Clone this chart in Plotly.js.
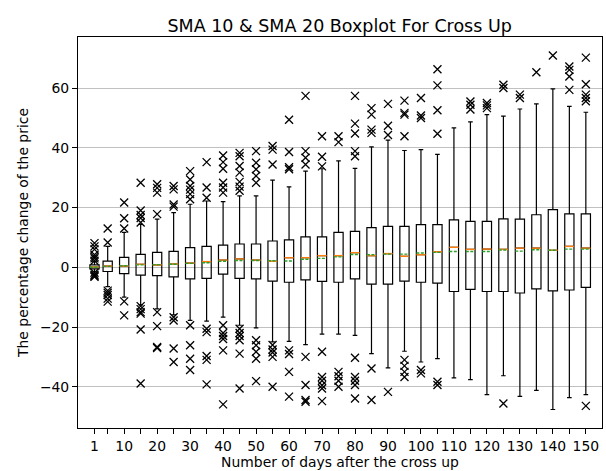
<!DOCTYPE html>
<html>
<head>
<meta charset="utf-8">
<script src="https://cdn.plot.ly/plotly-3.0.1.min.js"></script>
<style>html,body{margin:0;padding:0;background:#fff;}#chart{width:606px;height:471px;}</style>
</head>
<body>
<div id="chart"></div>
<script>
const days = [1,5,10,15,20,25,30,35,40,45,50,55,60,65,70,75,80,85,90,95,100,105,110,115,120,125,130,135,140,145,150];
const tickLabels = ['1','','10','','20','','30','','40','','50','','60','','70','','80','','90','','100','','110','','120','','130','','140','','150'];
const q1 =     [-0.5,-1.4,-2.1,-2.6,-2.8,-3.2,-3.9,-3.7,-2.3,-3.7,-3.9,-4.6,-5.0,-4.2,-4.7,-5.0,-3.9,-5.6,-5.6,-4.6,-5.0,-5.3,-8.1,-7.4,-8.1,-8.1,-8.6,-7.2,-7.9,-7.6,-6.7];
const median = [0.1,0.4,0.4,1.0,0.8,1.1,1.4,1.9,2.4,2.8,2.4,2.0,3.2,3.2,3.9,3.9,4.9,3.9,4.6,3.7,4.2,5.2,6.7,6.0,6.1,6.0,6.4,6.4,5.7,7.0,6.4];
const q3 =     [0.8,2.1,3.3,4.3,5.0,5.3,6.6,7.0,7.4,7.8,7.8,8.8,9.2,10.2,10.2,11.7,12.0,13.3,13.7,13.7,14.3,14.3,15.9,15.4,15.4,16.2,16.1,17.6,19.3,17.9,17.9];
const whiskerLow =  [-1.5,-6.5,-10.0,-12.6,-13.9,-15.9,-17.8,-18.0,-16.7,-19.4,-20.3,-25.0,-24.8,-25.9,-22.4,-22.4,-22.8,-28.9,-33.7,-28.1,-31.7,-30.6,-37.0,-37.6,-42.6,-36.3,-43.2,-41.2,-47.6,-43.6,-42.6];
const whiskerHigh = [2.0,7.0,11.7,14.4,16.1,18.3,21.1,22.2,22.0,23.9,23.9,29.2,26.9,32.2,33.0,35.6,33.1,40.3,42.6,39.1,39.4,37.8,46.7,48.7,51.1,50.6,53.0,54.7,59.7,53.9,51.9];
const mean =   [0.0,0.3,0.5,0.8,0.9,1.0,1.3,1.5,2.0,2.3,2.3,2.2,2.1,2.7,3.0,3.5,4.3,4.2,4.4,4.4,4.8,5.0,5.3,5.3,5.3,5.8,5.4,5.9,5.7,6.1,6.1];
const outliers = [
  [8.1,7.0,6.0,4.2,3.5,3.0,2.2,-1.8,-2.5,-2.9,-3.2],
  [13.0,8.3,-7.8,-8.5,-9.3,-10.5,-11.5],
  [13.0,16.4,21.7,-11.4,-16.1],
  [15.0,16.5,17.5,19.0,28.3,-13.0,-14.0,-15.0,-15.5,-20.8,-38.9],
  [17.8,25.0,26.6,27.8,-15.0,-19.7,-26.7,-27.0],
  [20.3,21.0,26.1,27.2,-16.7,-17.8,-27.2,-31.7],
  [22.8,24.5,26.0,27.2,29.4,32.2,-19.4,-26.1,-30.6,-34.4],
  [23.3,26.7,35.2,-20.6,-21.7,-29.7,-31.0,-39.2],
  [25.0,26.7,28.3,33.0,35.2,37.4,-19.4,-22.0,-23.0,-24.0,-27.8,-45.9],
  [25.6,27.0,28.6,31.7,33.9,37.2,38.3,-20.6,-22.0,-23.0,-24.4,-28.9,-40.6],
  [28.3,30.6,32.8,35.0,38.9,-24.4,-26.1,-28.3,-30.6,-38.1],
  [34.4,39.4,40.6,-26.0,-27.5,-28.5,-30.0,-40.0],
  [32.8,33.5,38.6,49.4,-27.8,-29.0,-35.0,-43.3],
  [34.4,36.7,38.9,57.4,-30.0,-39.4,-44.4,-45.0],
  [33.8,37.0,43.9,-28.3,-36.7,-38.0,-39.5,-40.6,-44.8],
  [41.9,43.9,-35.0,-36.5,-38.0,-40.0],
  [37.2,38.9,44.8,48.1,57.4,-30.3,-36.7,-38.0,-39.4,-43.9],
  [45.0,46.1,51.1,53.3,-33.9,-44.4],
  [44.3,47.4,54.7,-41.7],
  [43.9,51.1,51.7,55.8,-31.0,-33.0,-35.0,-36.7],
  [50.0,50.8,56.7,-34.4,-35.5],
  [44.7,52.6,60.9,66.3,-38.3,-39.4],
  [],
  [52.8,54.4,55.5],
  [53.3,54.2,55.0],
  [60.0,61.1,-45.6],
  [56.7,57.8],
  [65.3],
  [70.9],
  [59.4,63.9,66.1,67.2],
  [55.6,56.7,57.8,61.3,70.2,-46.4]
];

const boxWidth = 2.8;
const half = boxWidth / 2;

// Median and mean segments built from the data arrays
const medX = [], medY = [], meanX = [], meanY = [];
days.forEach((d, i) => {
  medX.push(d - half, d + half, null); medY.push(median[i], median[i], null);
  meanX.push(d - half, d + half, null); meanY.push(mean[i], mean[i], null);
});
const outX = [], outY = [];
outliers.forEach((arr, i) => arr.forEach(v => { outX.push(days[i]); outY.push(v); }));

const traces = [
  {
    type: 'box', orientation: 'v', x: days,
    q1: q1, median: median, q3: q3, lowerfence: whiskerLow, upperfence: whiskerHigh,
    width: boxWidth, whiskerwidth: 0.5, boxpoints: false,
    line: {color: '#000000', width: 1.2}, fillcolor: 'rgba(255,255,255,0)',
    hoverinfo: 'skip', showlegend: false
  },
  {
    type: 'scatter', mode: 'lines', x: medX, y: medY,
    line: {color: '#ff7f0e', width: 1.4}, hoverinfo: 'skip', showlegend: false
  },
  {
    type: 'scatter', mode: 'lines', x: meanX, y: meanY,
    line: {color: '#2ca02c', width: 1.4, dash: '3px,1.5px'}, hoverinfo: 'skip', showlegend: false
  },
  {
    type: 'scatter', mode: 'markers', x: outX, y: outY,
    marker: {symbol: 'x-thin-open', size: 8, color: '#000000', line: {color: '#000000', width: 1.3}},
    hoverinfo: 'skip', showlegend: false
  }
];

const layout = {
  width: 606, height: 471,
  margin: {l: 77.5, r: 4.3, t: 36.7, b: 42.5},
  paper_bgcolor: '#ffffff', plot_bgcolor: '#ffffff',
  font: {family: 'DejaVu Sans', color: '#000000', size: 13.9},
  title: {text: 'SMA 10 & SMA 20 Boxplot For Cross Up', font: {family: 'DejaVu Sans', size: 17.5, color: '#000'}, x: 0.5605, xanchor: 'center', yref: 'container', y: 0.933, yanchor: 'bottom'},
  showlegend: false,
  xaxis: {
    range: [-4, 154.9], tickmode: 'array', tickvals: days, ticktext: tickLabels,
    ticks: 'outside', ticklen: 5, tickwidth: 1, tickcolor: '#000',
    showline: true, mirror: true, linecolor: '#000', linewidth: 1,
    showgrid: false, zeroline: false,
    tickfont: {family: 'DejaVu Sans', size: 13.9, color: '#000'},
    title: {text: 'Number of days after the cross up', font: {family: 'DejaVu Sans', size: 13.9, color: '#000'}, standoff: 4}
  },
  yaxis: {
    range: [-53.8, 77.1], tickvals: [-40,-20,0,20,40,60], ticktext: ['\u221240','\u221220','0','20','40','60'],
    ticks: 'outside', ticklen: 5, tickwidth: 1, tickcolor: '#000',
    showline: true, mirror: true, linecolor: '#000', linewidth: 1,
    showgrid: true, gridcolor: '#b0b0b0', gridwidth: 0.8, zeroline: false,
    tickfont: {family: 'DejaVu Sans', size: 13.9, color: '#000'},
    title: {text: 'The percentage change of the price', font: {family: 'DejaVu Sans', size: 13.9, color: '#000'}, standoff: 8}
  }
};

Plotly.newPlot('chart', traces, layout, {displayModeBar: false, staticPlot: true});
</script>
</body>
</html>
